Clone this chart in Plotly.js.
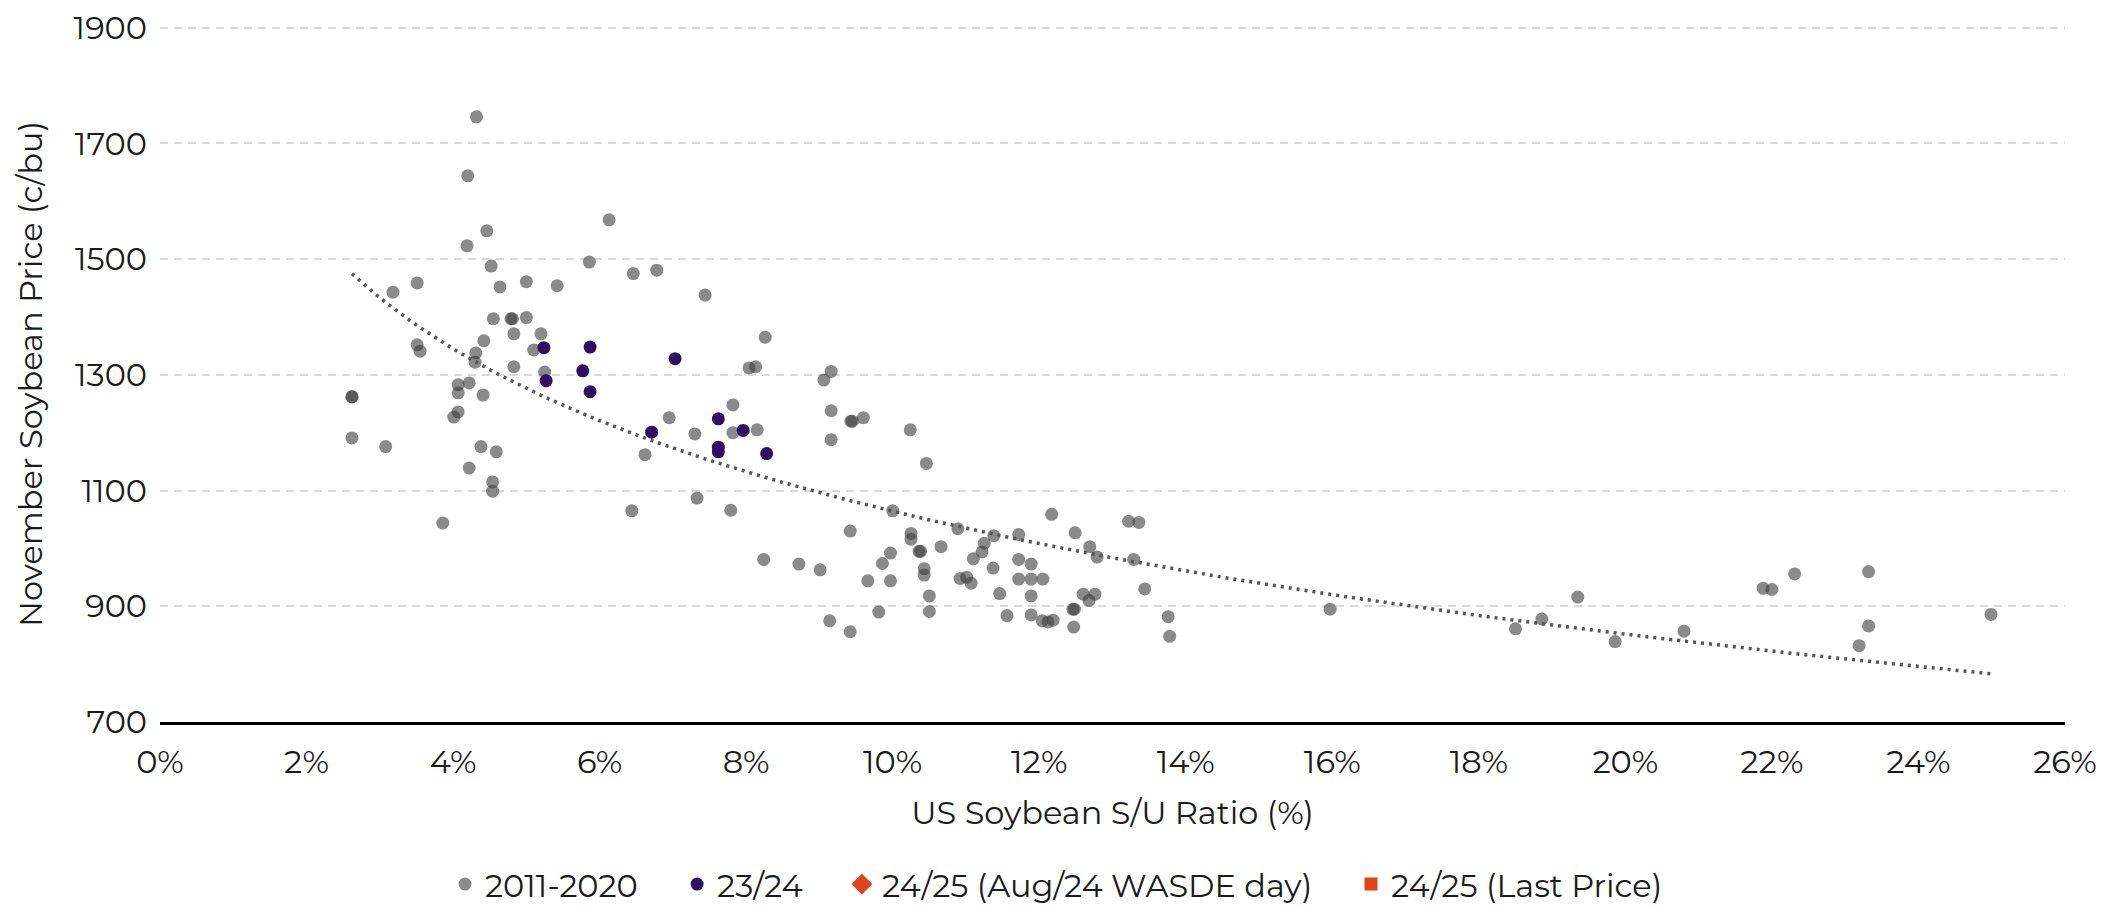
<!DOCTYPE html>
<html>
<head>
<meta charset="utf-8">
<script src="https://cdn.plot.ly/plotly-3.0.1.min.js"></script>
<style>
  html, body { margin: 0; padding: 0; background: #ffffff; }
  #chart { width: 2108px; height: 906px; }
</style>
</head>
<body>
<div id="chart"></div>
<script>
// 2011-2020 : US soybean stocks-to-use ratio (%) and November soybean price (c/bu)
const histSU = [
  2.62, 2.62, 2.62, 3.08, 3.18, 3.51, 3.51, 3.55, 3.86,
  4.01, 4.07, 4.07, 4.07, 4.22, 4.22, 4.19, 4.20, 4.32,
  4.30, 4.31, 4.42, 4.41, 4.38, 4.46, 4.52, 4.55, 4.54, 4.54, 4.59, 4.64,
  4.79, 4.81, 4.83, 4.83, 5.00, 5.00, 5.10, 5.20, 5.25, 5.42, 5.86, 6.13,
  6.46, 6.78, 6.44, 6.62, 6.95, 7.30, 7.33, 7.44, 7.79, 7.82, 7.82,
  8.04, 8.13, 8.26, 8.15, 8.24, 8.72, 9.01, 9.06, 9.16, 9.16, 9.16,
  9.43, 9.45, 9.60, 9.14, 9.42, 9.42, 9.66, 9.97, 9.86, 9.97, 9.81, 10.00,
  10.24, 10.46, 10.25, 10.25, 10.36, 10.38, 10.66, 10.43, 10.43, 10.50, 10.50,
  10.89, 10.92, 11.01, 11.07, 11.10, 11.22, 11.25, 11.38, 11.37, 11.46, 11.56,
  11.72, 11.72, 11.89, 11.72, 11.89, 12.05, 11.89, 11.89, 12.04, 12.12, 12.19,
  12.17, 12.49, 12.46, 12.48, 12.47, 12.60, 12.76, 12.68, 12.69, 12.79,
  13.22, 13.36, 13.29, 13.44, 13.76, 13.78, 15.97,
  18.50, 18.86, 19.35, 19.86, 20.80, 21.88, 22.00, 22.31, 23.32, 23.32, 23.19, 24.99
];
const histPrice = [
  1262, 1262, 1191, 1176, 1443, 1459, 1352, 1341, 1044,
  1227, 1236, 1269, 1283, 1286, 1139, 1523, 1644, 1746,
  1322, 1338, 1359, 1265, 1176, 1549, 1488, 1397, 1115, 1099, 1167, 1452,
  1397, 1397, 1371, 1314, 1461, 1399, 1343, 1371, 1305, 1454, 1495, 1568,
  1475, 1481, 1065, 1162, 1226, 1198, 1087, 1438, 1066, 1248, 1200,
  1312, 1314, 1365, 1205, 981, 973, 963, 1291, 1306, 1238, 1188,
  1220, 1220, 1226, 875, 856, 1030, 944, 944, 974, 992, 890, 1065,
  1205, 1147, 1026, 1016, 995, 995, 1003, 965, 954, 918, 891,
  1034, 948, 950, 940, 982, 994, 1009, 1022, 966, 922, 884,
  1024, 981, 973, 947, 947, 947, 918, 885, 875, 873, 876,
  1059, 1027, 895, 895, 864, 921, 921, 910, 1003, 985,
  1047, 1045, 981, 930, 882, 848, 895,
  861, 878, 916, 839, 857, 931, 929, 956, 960, 866, 832, 886
];

// 23/24 season
const curSU    = [5.24, 5.27, 5.77, 5.87, 5.87, 6.71, 7.03, 7.62, 7.62, 7.62, 7.96, 8.28];
const curPrice = [1347, 1290, 1307, 1271, 1348, 1201, 1328, 1224, 1175, 1167, 1204, 1164];

// 24/25 series (no visible points in the chart, legend entries only)
const wasdeSU = [null], wasdePrice = [null];
const lastSU = [null], lastPrice = [null];

const seriesNames = ['2011-2020', '23/24', '24/25 (Aug/24 WASDE day)', '24/25 (Last Price)'];
const yTicks = [700, 900, 1100, 1300, 1500, 1700, 1900];
const xTicks = [0, 2, 4, 6, 8, 10, 12, 14, 16, 18, 20, 22, 24, 26];

// Logarithmic trendline fitted (least squares) on the 2011-2020 points
function logFit(xs, ys) {
  const n = xs.length;
  let sx = 0, sy = 0, sxx = 0, sxy = 0;
  for (let i = 0; i < n; i++) {
    const lx = Math.log(xs[i]);
    sx += lx; sy += ys[i]; sxx += lx * lx; sxy += lx * ys[i];
  }
  const b = (n * sxy - sx * sy) / (n * sxx - sx * sx);
  const a = (sy - b * sx) / n;
  return { a, b };
}
const fit = logFit(histSU, histPrice);
const xMin = Math.min(...histSU), xMax = Math.max(...histSU);
const trendX = [], trendY = [];
for (let i = 0; i <= 200; i++) {
  const x = xMin + (xMax - xMin) * i / 200;
  trendX.push(x);
  trendY.push(fit.a + fit.b * Math.log(x));
}

const FONT = 'Montserrat, "Open Sans", "Noto Sans", sans-serif';
const TXT = '#1a1a1a';
const FS = 32;

const traces = [
  {
    x: histSU, y: histPrice, type: 'scatter', mode: 'markers', name: seriesNames[0],
    legend: 'legend',
    marker: { color: 'rgb(60,60,60)', opacity: 0.6, size: 13, line: { width: 0 } }
  },
  {
    x: curSU, y: curPrice, type: 'scatter', mode: 'markers', name: seriesNames[1],
    legend: 'legend2',
    marker: { color: '#2b1162', size: 13, line: { width: 0 } }
  },
  {
    x: wasdeSU, y: wasdePrice, type: 'scatter', mode: 'markers', name: seriesNames[2],
    legend: 'legend3',
    marker: { color: '#e0441c', symbol: 'diamond', size: 16, line: { width: 0 } }
  },
  {
    x: lastSU, y: lastPrice, type: 'scatter', mode: 'markers', name: seriesNames[3],
    legend: 'legend4',
    marker: { color: '#e0441c', symbol: 'square', size: 13, line: { width: 0 } }
  },
  {
    x: trendX, y: trendY, type: 'scatter', mode: 'lines', name: 'trend', showlegend: false,
    line: { color: '#555555', width: 3.5, dash: '3px,5px' }, hoverinfo: 'skip'
  }
];

function legendAt(xFrac) {
  return {
    orientation: 'h', xref: 'container', yref: 'container',
    x: xFrac, xanchor: 'left', y: 0.024, yanchor: 'middle',
    font: { family: FONT, size: FS, color: TXT }, bgcolor: 'rgba(0,0,0,0)'
  };
}

const layout = {
  width: 2108, height: 906,
  margin: { l: 160, r: 43, t: 26, b: 184, autoexpand: false },
  paper_bgcolor: '#ffffff', plot_bgcolor: '#ffffff',
  font: { family: FONT, size: FS, color: TXT },
  showlegend: true,
  legend: legendAt(0.2111),
  legend2: legendAt(0.3212),
  legend3: legendAt(0.3994),
  legend4: legendAt(0.6409),
  xaxis: {
    range: [0, 26], tickvals: xTicks, ticktext: xTicks.map(v => v + '%'),
    showgrid: false, zeroline: false, automargin: false,
    showline: true, linecolor: '#000000', linewidth: 3,
    ticks: '', ticklabelstandoff: 10,
    tickfont: { family: FONT, size: FS, color: TXT },
    title: { text: 'US Soybean S/U Ratio (%)', font: { family: FONT, size: FS, color: TXT }, standoff: 22 },
    fixedrange: true
  },
  yaxis: {
    range: [700, 1903], tickvals: yTicks, ticktext: yTicks.map(String),
    showgrid: true, gridcolor: '#d9d9d9', gridwidth: 2, griddash: '8px,6px',
    zeroline: false, showline: false, ticks: '', ticklabelstandoff: 12, automargin: false,
    tickfont: { family: FONT, size: FS, color: TXT },
    title: { text: 'November Soybean Price (c/bu)', font: { family: FONT, size: FS, color: TXT }, standoff: 21 },
    fixedrange: true
  }
};

Plotly.newPlot('chart', traces, layout, { displayModeBar: false, staticPlot: true });
</script>
</body>
</html>
